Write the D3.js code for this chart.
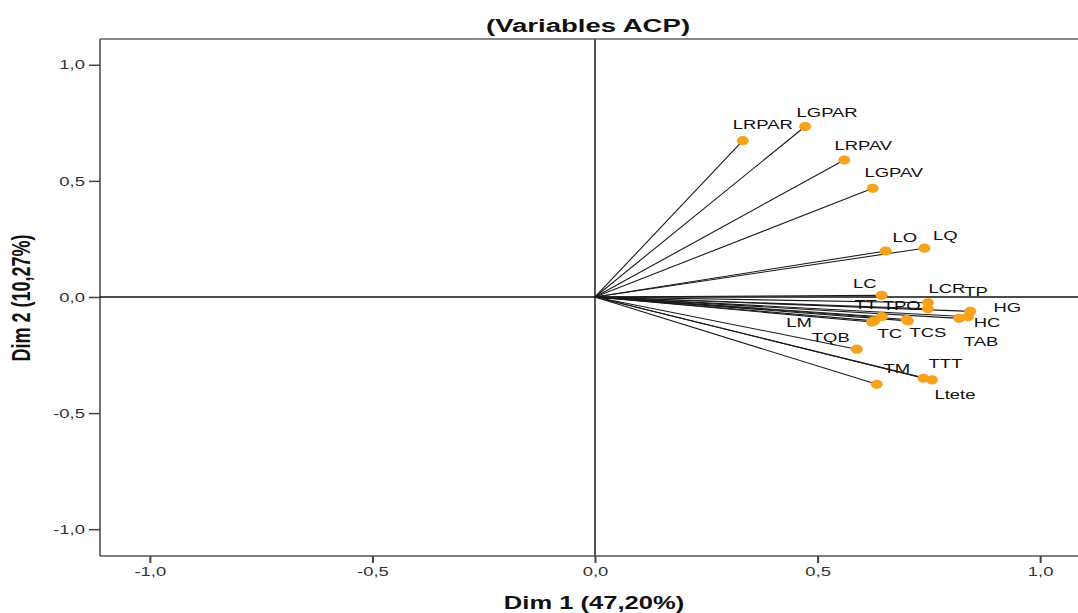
<!DOCTYPE html>
<html>
<head>
<meta charset="utf-8">
<script src="https://cdn.jsdelivr.net/npm/d3@7"></script>
<style>
  body { margin: 0; background: #fff; }
  svg { display: block; font-family: "Liberation Sans", Arial, sans-serif; }
</style>
</head>
<body>
<svg id="plot"></svg>
<script>
// variable names and their loadings on the two dimensions
let variables = ["LRPAR", "LGPAR", "LRPAV", "LGPAV", "LO", "LQ", "LC", "LCR", "TP", "HG", "HC", "TAB",
    "TT", "TPO", "TCS", "TC", "LM", "TQB", "TTT", "Ltete", "TM"];
let dim1 = [0.332, 0.472, 0.560, 0.624, 0.653, 0.740, 0.644, 0.748, 0.748, 0.843, 0.838, 0.818,
    0.644, 0.700, 0.703, 0.622, 0.627, 0.588, 0.738, 0.757, 0.633];
let dim2 = [0.673, 0.734, 0.590, 0.468, 0.198, 0.210, 0.007, -0.025, -0.051, -0.062, -0.085, -0.092,
    -0.085, -0.097, -0.103, -0.108, -0.103, -0.225, -0.350, -0.357, -0.376];
let tickValues = [-1.0, -0.5, 0.0, 0.5, 1.0];

let titleText = "(Variables ACP)";
let xTitle = "Dim 1 (47,20%)";
let yTitle = "Dim 2 (10,27%)";

// where each label sits relative to its point (px), spss-ish placement
let labelOffsets = {
    LRPAR: [20, -16], LGPAR: [22, -14], LRPAV: [19, -15], LGPAV: [21, -16],
    LO: [19, -14], LQ: [21, -13], LC: [-17, -12], LCR: [19, -14], TP: [48, -18],
    HG: [37, -4], HC: [19, 6], TAB: [22, 23], TT: [-16, -12], TPO: [-5, -14],
    TCS: [20, 11], TC: [18, 11], LM: [-75, 1], TQB: [-26, -12], TTT: [22, -15],
    Ltete: [23, 14], TM: [20, -16]
};

let w = 1078, h = 613;
let margin = { top: 39, left: 100, bottom: 556 };
let sx = 1.42; // picture is stretched sideways

let data = variables.map((v, i) => ({ name: v, x: dim1[i], y: dim2[i] }));

let svg = d3.select("#plot").attr("width", w).attr("height", h);

let xScale = d3.scaleLinear().domain([-1.112, 1.112]).range([100, 1090]);
let yScale = d3.scaleLinear().domain([-1.1155, 1.111]).range([margin.bottom, margin.top]);

// comma decimals and a plain hyphen like spss
let fmt = d => d3.format(".1f")(d).replace(".", ",").replace("\u2212", "-");

// frame
svg.append("line").attr("x1", 100).attr("x2", w).attr("y1", margin.top).attr("y2", margin.top)
    .attr("stroke", "#8a8a8a").attr("stroke-width", 2);
svg.append("line").attr("x1", 100).attr("x2", w).attr("y1", margin.bottom).attr("y2", margin.bottom)
    .attr("stroke", "#555").attr("stroke-width", 1.5);
svg.append("line").attr("x1", 100).attr("x2", 100).attr("y1", margin.top).attr("y2", margin.bottom)
    .attr("stroke", "#444").attr("stroke-width", 1.5);

// axes
let yAxis = d3.axisLeft(yScale).tickValues(tickValues).tickFormat(fmt).tickSize(11).tickSizeOuter(0);
let gy = svg.append("g").attr("transform", "translate(100,0)").call(yAxis);
gy.select(".domain").remove();
gy.selectAll("line").attr("stroke", "#444").attr("stroke-width", 1.5);
gy.selectAll("text").attr("x", -15 / sx).attr("transform", "scale(" + sx + ",1)")
    .style("font-size", "13px").attr("fill", "#333");

let xAxis = d3.axisBottom(xScale).tickValues(tickValues).tickFormat(fmt).tickSize(7).tickSizeOuter(0);
let gx = svg.append("g").attr("transform", "translate(0," + margin.bottom + ")").call(xAxis);
gx.select(".domain").remove();
gx.selectAll("line").attr("stroke", "#444").attr("stroke-width", 2);
gx.selectAll("text").attr("y", 11).attr("transform", "scale(" + sx + ",1)")
    .style("font-size", "13px").attr("fill", "#333");

// reference lines through origin
svg.append("line").attr("x1", xScale(0)).attr("x2", xScale(0)).attr("y1", margin.top).attr("y2", margin.bottom)
    .attr("stroke", "#555").attr("stroke-width", 2);
svg.append("line").attr("x1", 100).attr("x2", w).attr("y1", yScale(0)).attr("y2", yScale(0))
    .attr("stroke", "#111").attr("stroke-width", 1.6);

// vectors
svg.selectAll("line.vec")
    .data(data)
    .enter()
    .append("line")
    .attr("class", "vec")
    .attr("x1", xScale(0)).attr("y1", yScale(0))
    .attr("x2", d => xScale(d.x)).attr("y2", d => yScale(d.y))
    .attr("stroke", "#1a1a1a").attr("stroke-width", 1.1);

svg.selectAll("ellipse.pt")
    .data(data)
    .enter()
    .append("ellipse")
    .attr("class", "pt")
    .attr("cx", d => xScale(d.x)).attr("cy", d => yScale(d.y))
    .attr("rx", 6).attr("ry", 4.6)
    .attr("fill", "#f7a21d");

svg.selectAll("text.lbl")
    .data(data)
    .enter()
    .append("text")
    .attr("class", "lbl")
    .attr("transform", d => {
        let o = labelOffsets[d.name];
        return "translate(" + (xScale(d.x) + o[0]) + "," + (yScale(d.y) + o[1]) + ") scale(" + sx + ",1)";
    })
    .attr("text-anchor", "middle")
    .attr("dy", "0.36em")
    .style("font-size", "13px")
    .attr("fill", "#111")
    .text(d => d.name);

// titles
svg.append("text")
    .attr("transform", "translate(588,32) scale(1.45,1)")
    .attr("text-anchor", "middle")
    .style("font-size", "19px").style("font-weight", "bold")
    .attr("fill", "#111")
    .text(titleText);

svg.append("text")
    .attr("transform", "translate(594,609) scale(" + sx + ",1)")
    .attr("text-anchor", "middle")
    .style("font-size", "18px").style("font-weight", "bold")
    .attr("fill", "#111")
    .text(xTitle);

svg.append("text")
    .attr("transform", "translate(30,298) scale(" + sx + ",1) rotate(-90)")
    .attr("text-anchor", "middle")
    .style("font-size", "18px").style("font-weight", "bold")
    .attr("fill", "#111")
    .text(yTitle);
</script>
</body>
</html>
